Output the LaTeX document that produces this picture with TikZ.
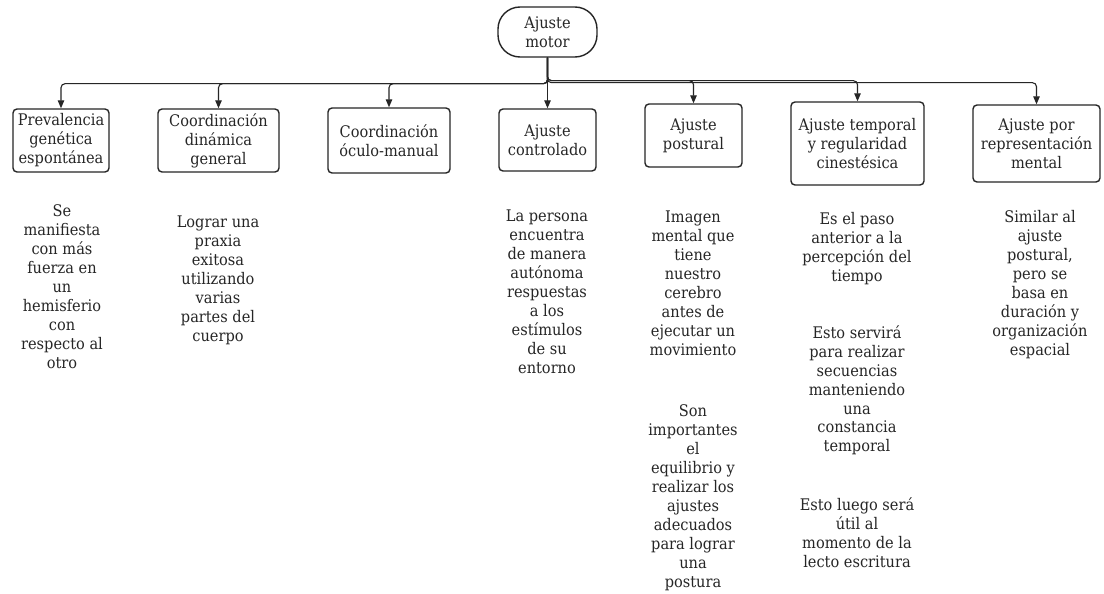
\documentclass[tikz,border=0pt]{standalone}
\usepackage{fontspec}
\setmainfont{DejaVu Serif}[FakeStretch=0.91]
\usetikzlibrary{arrows.meta}
\begin{document}
\begin{tikzpicture}[x=1pt,y=-1pt,
  every node/.style={font=\fontsize{16}{19}\selectfont, text=black!85},
  box/.style={draw=black!85, line width=1.4pt, rounded corners=4pt, align=center, inner sep=0pt},
  rootbox/.style={draw=black!85, line width=1.4pt, rounded corners=22pt, align=center, inner sep=0pt, minimum width=99pt, minimum height=50pt},
  desc/.style={align=center, anchor=north, inner sep=0pt},
  conn/.style={draw=black!85, line width=1.1pt, rounded corners=4pt, -{Triangle[length=8pt,width=6.5pt]}}]
\useasboundingbox (0,0) rectangle (1104,594);
\fill[white] (0,0) rectangle (1104,594);

\node[rootbox] (root) at (547.5,32) {Ajuste\\motor};

\node[box, minimum width=96pt, minimum height=63pt] (b1) at (61,140.5) {Prevalencia\\genética\\espontánea};
\node[box, minimum width=121pt, minimum height=63pt] (b2) at (218.5,140.5) {Coordinación\\dinámica\\general};
\node[box, minimum width=122pt, minimum height=65pt] (b3) at (389,140.5) {Coordinación\\óculo-manual};
\node[box, minimum width=97pt, minimum height=62pt] (b4) at (547.5,140) {Ajuste\\controlado};
\node[box, minimum width=97pt, minimum height=63pt] (b5) at (693.5,135.5) {Ajuste\\postural};
\node[box, minimum width=133pt, minimum height=83pt] (b6) at (857.5,143.5) {Ajuste temporal\\y regularidad\\cinestésica};
\node[box, minimum width=127pt, minimum height=77pt] (b7) at (1036.5,143.5) {Ajuste por\\representación\\mental};

\draw[conn] (root.south) -- ++(0,26) -| (b1.north);
\draw[conn] (root.south) -- ++(0,26) -| (b2.north);
\draw[conn] (root.south) -- ++(0,26) -| (b3.north);
\draw[conn] (root.south) -- (b4.north);
\draw[conn] (root.south) -- ++(0,23) -| (b5.north);
\draw[conn] (root.south) -- ++(0,23) -| (b6.north);
\draw[conn] (root.south) -- ++(0,25) -| (b7.north);

\node[desc] (d1) at (62,204) {\vphantom{l}Se\\manifiesta\\con más\\fuerza en\\un\\hemisferio\\con\\respecto al\\otro};
\node[desc] (d2) at (218,215) {\vphantom{l}Lograr una\\praxia\\exitosa\\utilizando\\varias\\partes del\\cuerpo};
\node[desc] (d4) at (547,209) {\vphantom{l}La persona\\encuentra\\de manera\\autónoma\\respuestas\\a los\\estímulos\\de su\\entorno};
\node[desc] (d5a) at (693,210) {\vphantom{l}Imagen\\mental que\\tiene\\nuestro\\cerebro\\antes de\\ejecutar un\\movimiento};
\node[desc] (d5b) at (693,404) {\vphantom{l}Son\\importantes\\el\\equilibrio y\\realizar los\\ajustes\\adecuados\\para lograr\\una\\postura};
\node[desc] (d6a) at (857,212) {\vphantom{l}Es el paso\\anterior a la\\percepción del\\tiempo};
\node[desc] (d6b) at (857,325) {\vphantom{l}Esto servirá\\para realizar\\secuencias\\manteniendo\\una\\constancia\\temporal};
\node[desc] (d6c) at (857,497) {\vphantom{l}Esto luego será\\útil al\\momento de la\\lecto escritura};
\node[desc] (d7) at (1040,210) {\vphantom{l}Similar al\\ajuste\\postural,\\pero se\\basa en\\duración y\\organización\\espacial};
\end{tikzpicture}
\end{document}
